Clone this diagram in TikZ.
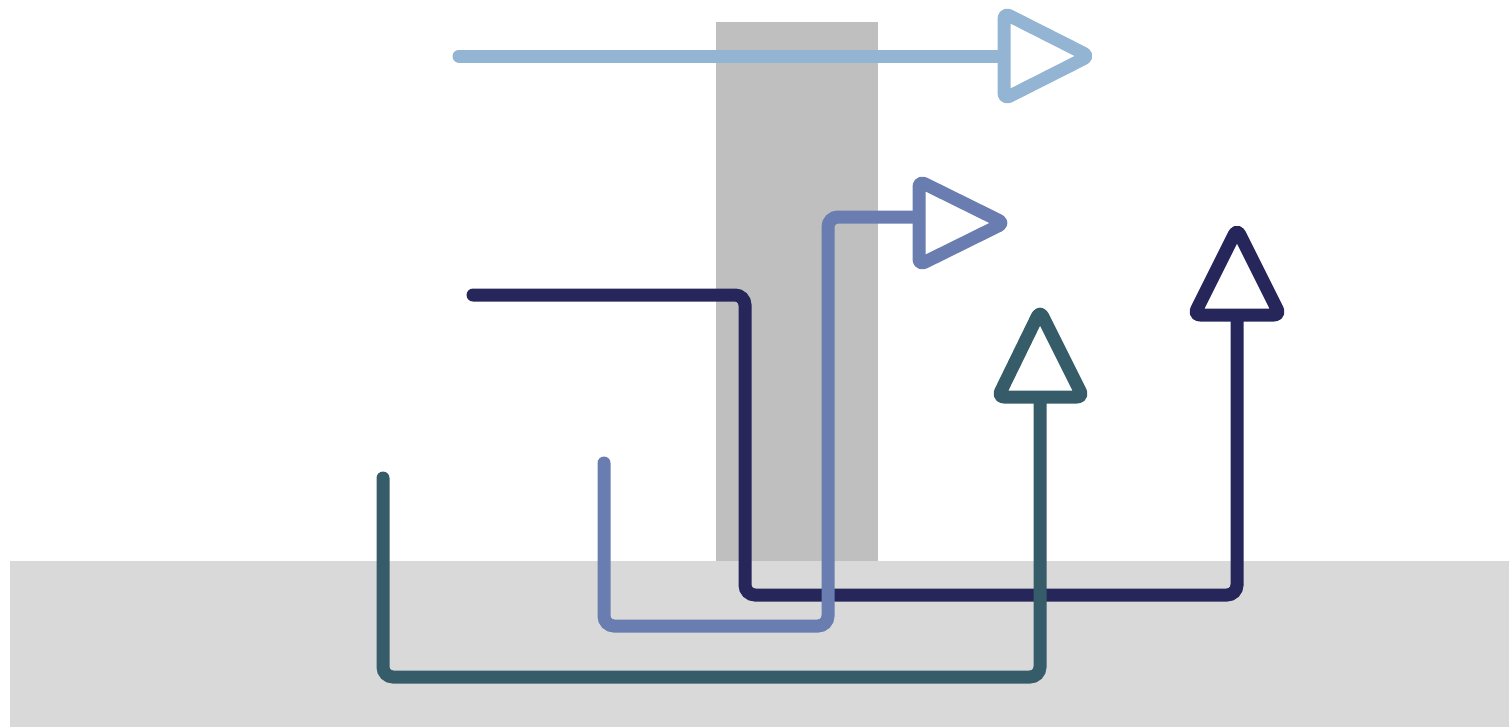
\documentclass[tikz,border=0pt]{standalone}
\usepackage{tikz}
\usetikzlibrary{positioning,calc}
\definecolor{floorgray}{HTML}{D9D9D9}
\definecolor{wallgray}{HTML}{BFBFBF}
\definecolor{skyblue}{HTML}{93B4D3}
\definecolor{midblue}{HTML}{6A7DB0}
\definecolor{deepnavy}{HTML}{26265A}
\definecolor{darkteal}{HTML}{365C69}

\begin{document}
\begin{tikzpicture}[x=0.01cm, y=-0.01cm,
    flow/.style={line width=1.3mm, line cap=round, rounded corners=1mm},
    head/.style={line width=1.3mm, line join=round, rounded corners=0.6mm, fill=white}]
\useasboundingbox (0,0) rectangle (1509,727);

% Floor and wall
\fill[floorgray] (10,561) rectangle (1509,727);
\fill[wallgray] (716,22) rectangle (878,561);

% Navy route
\coordinate (navyin) at (473,295);
\coordinate (navyout) at (1237,315);
\draw[flow, deepnavy] (navyin) -| (745,595) -| (navyout);
\draw[head, draw=deepnavy] (1194,315) -- (1280,315) -- (1237,229) -- cycle;

% Blue route
\coordinate (bluein) at (604,463);
\coordinate (blueout) at (919,217);
\draw[flow, midblue] (bluein) |- (828,626) |- (blueout);
\draw[head, draw=midblue] (919,181) -- (919,265) -- (1004,223) -- cycle;

% Teal route
\coordinate (tealin) at (383,478);
\coordinate (tealout) at (1040,397);
\draw[flow, darkteal] (tealin) |- (1040,677) -- (tealout);
\draw[head, draw=darkteal] (998,397) -- (1083,397) -- (1040,311) -- cycle;

% Sky route
\coordinate (skyin) at (459,56);
\coordinate (skyout) at (1004,56);
\draw[flow, skyblue] (skyin) -- (skyout);
\draw[head, draw=skyblue] (1004,13) -- (1004,99) -- (1089,56) -- cycle;

\end{tikzpicture}
\end{document}
